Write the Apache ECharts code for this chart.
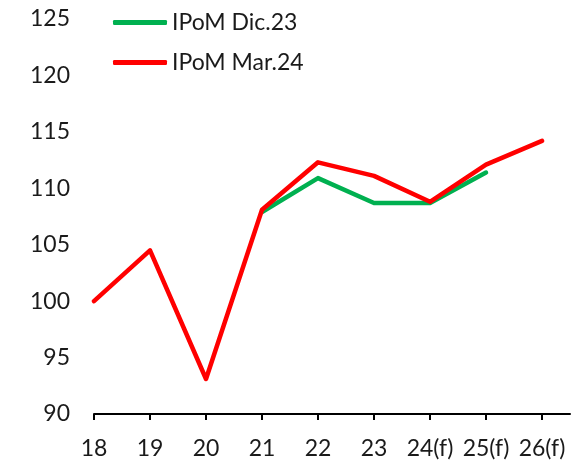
<!DOCTYPE html>
<html>
<head>
<meta charset="utf-8">
<script src="https://cdn.jsdelivr.net/npm/echarts@6/dist/echarts.min.js"></script>
<style>
html, body { margin: 0; padding: 0; background: #fff; }
#chart { width: 579px; height: 465px; }
</style>
</head>
<body>
<div id="chart"></div>
<script>
// años (eje x) y series
var years = ['18', '19', '20', '21', '22', '23', '24(f)', '25(f)', '26(f)'];
var ipomDic23 = [null, null, null, 107.9, 110.9, 108.7, 108.7, 111.4, null];
var ipomMar24 = [100.0, 104.5, 93.1, 108.1, 112.3, 111.1, 108.8, 112.1, 114.2];
var yTicks = [90, 95, 100, 105, 110, 115, 120, 125];

function toPoints(arr) {
    var out = [];
    arr.forEach(function (v, i) {
        if (v !== null) out.push([i, v]);
    });
    return out;
}

var font = 'Lato';
var chart = echarts.init(document.getElementById('chart'));
var option = {
    animation: false,
    grid: { left: 94, right: 9, top: 19, bottom: 51 },
    legend: {
        orient: 'vertical',
        left: 113,
        top: 11,
        padding: 0,
        icon: 'roundRect',
        itemWidth: 54,
        itemHeight: 5,
        itemGap: 17,
        textStyle: { fontFamily: font, fontSize: 23, color: '#1a1a1a', lineHeight: 23 },
        data: ['IPoM Dic.23', 'IPoM Mar.24']
    },
    xAxis: {
        type: 'value',
        min: 0,
        max: 8.5,
        interval: 1,
        splitLine: { show: false },
        axisLine: { show: true, lineStyle: { color: '#000', width: 2 } },
        axisTick: {
            show: true, length: 6, lineStyle: { color: '#000', width: 2 },
            customValues: years.map(function (y, i) { return i; })
        },
        axisLabel: {
            margin: 23,
            fontFamily: font, fontSize: 23, color: '#1a1a1a',
            customValues: years.map(function (y, i) { return i; }),
            formatter: function (v) { return years[v]; }
        }
    },
    yAxis: {
        type: 'value',
        min: yTicks[0],
        max: yTicks[yTicks.length - 1],
        interval: 5,
        splitLine: { show: false },
        axisLine: { show: false },
        axisTick: { show: false },
        axisLabel: { margin: 24, fontFamily: font, fontSize: 23, color: '#1a1a1a' }
    },
    series: [
        {
            name: 'IPoM Dic.23',
            type: 'line',
            symbol: 'none',
            color: '#00B050',
            lineStyle: { width: 4.5, color: '#00B050', cap: 'round', join: 'round' },
            data: toPoints(ipomDic23)
        },
        {
            name: 'IPoM Mar.24',
            type: 'line',
            symbol: 'none',
            color: '#FF0000',
            lineStyle: { width: 4.5, color: '#FF0000', cap: 'round', join: 'round' },
            data: toPoints(ipomMar24)
        }
    ]
};
chart.setOption(option);
</script>
</body>
</html>
